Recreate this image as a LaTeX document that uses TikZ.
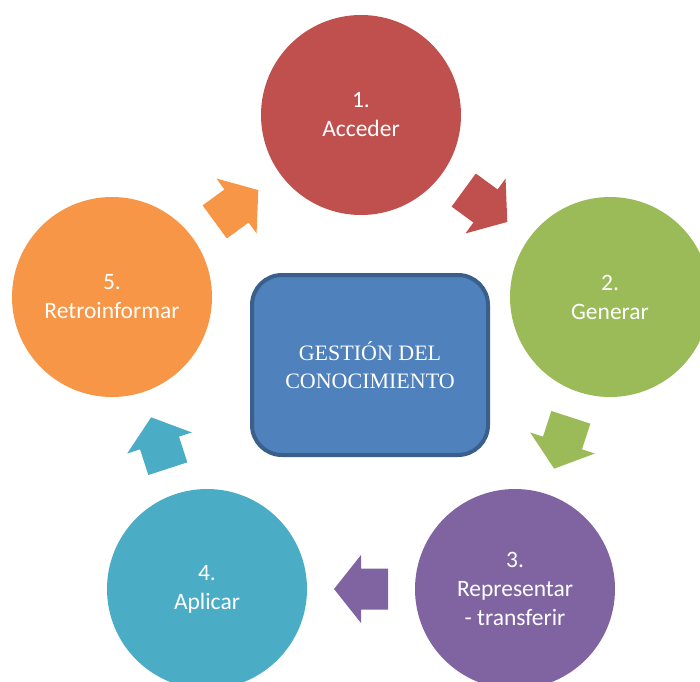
\documentclass[tikz,border=0pt]{standalone}
\usepackage{fontspec}
\setmainfont{Liberation Serif}
\newfontfamily\etapafont{Carlito}
\definecolor{rojo}{HTML}{C0504D}
\definecolor{verde}{HTML}{9BBB59}
\definecolor{morado}{HTML}{8064A2}
\definecolor{celeste}{HTML}{4BACC6}
\definecolor{naranja}{HTML}{F79646}
\definecolor{azul}{HTML}{4F81BD}
\definecolor{azulborde}{HTML}{3A5F8B}

\begin{document}
\begin{tikzpicture}[x=1pt,y=1pt,
	etapa/.style={circle,minimum size=200pt,inner sep=0pt,text=white,align=center,
		font=\etapafont\fontsize{23.5}{29}\selectfont},
	flecha/.pic={
		\path [pic actions] (-27,-20.5) -- (0,-20.5) -- (0,-34) -- (27,0)
		-- (0,34) -- (0,20.5) -- (-27,20.5) -- cycle;
	}]
	\useasboundingbox (0,0) rectangle (700,681);

	\node [etapa,fill=rojo] (c1) at (361,566) {1.\\Acceder};
	\node [etapa,fill=verde] (c2) at (610,384) {2.\\Generar};
	\node [etapa,fill=morado] (c3) at (515,92) {3.\\Representar\\- transferir};
	\node [etapa,fill=celeste] (c4) at (207,92) {4.\\Aplicar};
	\node [etapa,fill=naranja] (c5) at (112,384) {5.\\Retroinformar};

	\node [draw=azulborde,line width=4pt,fill=azul,rounded corners=30pt,
		minimum width=236pt,minimum height=180pt,text=white,align=center,
		font=\fontsize{22}{28}\selectfont] (gc) at (370,316)
	{GESTIÓN DEL\\CONOCIMIENTO};

	\path (c1) -- pic [midway,sloped,allow upside down,fill=rojo] {flecha} (c2);
	\path (c2) -- pic [midway,sloped,allow upside down,fill=verde] {flecha} (c3);
	\path (c3) -- pic [midway,sloped,allow upside down,fill=morado] {flecha} (c4);
	\path (c4) -- pic [midway,sloped,allow upside down,fill=celeste] {flecha} (c5);
	\path (c5) -- pic [midway,sloped,allow upside down,fill=naranja] {flecha} (c1);
\end{tikzpicture}
\end{document}
